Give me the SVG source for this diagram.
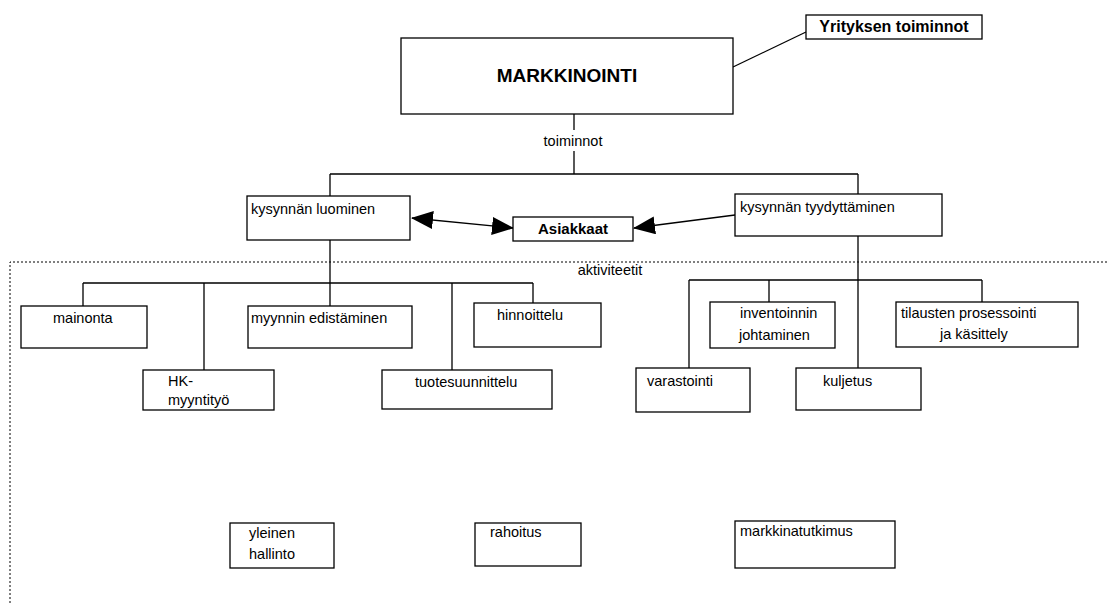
<svg xmlns="http://www.w3.org/2000/svg" width="1108" height="603" viewBox="0 0 1108 603">
<style>
  .box { fill: #fff; stroke: #000; stroke-width: 1.3; }
  .ln { fill: none; stroke: #000; stroke-width: 1.3; }
  .dot { fill: none; stroke: #000; stroke-width: 1; stroke-dasharray: 2 2; }
  text { font-family: "Liberation Sans", Arial, sans-serif; font-size: 14.5px; fill: #000; }
  .b { font-weight: bold; }
  .c { text-anchor: middle; }
</style>
<defs>
  <marker id="ah" markerWidth="22" markerHeight="18" refX="21" refY="9" orient="auto-start-reverse" markerUnits="userSpaceOnUse">
    <path d="M0,0 L22,9 L0,18 Z" fill="#000"/>
  </marker>
</defs>
<rect width="1108" height="603" fill="#fff"/>

<g id="connectors">
  <path class="dot" d="M10,603 V262 H1108"/>
  <line class="ln" x1="733" y1="67" x2="806" y2="32"/>
  <path class="ln" d="M574,114 V130 M574,151 V174 M330,174 H858 M330,174 V196 M858,174 V194"/>
  <line class="ln" x1="412" y1="218" x2="513" y2="228" marker-start="url(#ah)" marker-end="url(#ah)"/>
  <line class="ln" x1="735" y1="215" x2="634" y2="228" marker-end="url(#ah)"/>
  <path class="ln" d="M330,240 V306 M83,283 H533 M83,283 V306 M204,283 V370 M452,283 V370 M533,283 V303"/>
  <path class="ln" d="M858,236 V368 M689,280 H982 M689,280 V368 M769,280 V302 M982,280 V302"/>
</g>

<g id="markkinointi">
  <rect class="box" x="401" y="38" width="332" height="76"/>
  <text class="b c" x="567" y="82" style="font-size:19px">MARKKINOINTI</text>
</g>
<g id="yrityksen-toiminnot">
  <rect class="box" x="806" y="15" width="176" height="24"/>
  <text class="b c" x="894" y="32" style="font-size:16px">Yrityksen toiminnot</text>
</g>
<g id="toiminnot-label">
  <text class="c" x="573" y="146">toiminnot</text>
</g>
<g id="kysynnan-luominen">
  <rect class="box" x="247" y="196" width="163" height="44"/>
  <text x="251" y="214">kysynnän luominen</text>
</g>
<g id="kysynnan-tyydyttaminen">
  <rect class="box" x="735" y="194" width="207" height="42"/>
  <text x="740" y="212">kysynnän tyydyttäminen</text>
</g>
<g id="asiakkaat">
  <rect class="box" x="513" y="217" width="120" height="24"/>
  <text class="b c" x="573" y="234" style="font-size:15px">Asiakkaat</text>
</g>
<g id="aktiviteetit-label">
  <text class="c" x="610" y="275">aktiviteetit</text>
</g>
<g id="mainonta">
  <rect class="box" x="21" y="306" width="126" height="42"/>
  <text x="53" y="323">mainonta</text>
</g>
<g id="myynnin-edistaminen">
  <rect class="box" x="248" y="306" width="164" height="42"/>
  <text x="251" y="323">myynnin edistäminen</text>
</g>
<g id="hinnoittelu">
  <rect class="box" x="474" y="303" width="127" height="44"/>
  <text x="497" y="320">hinnoittelu</text>
</g>
<g id="hk-myyntityo">
  <rect class="box" x="143" y="370" width="131" height="40"/>
  <text x="168" y="386">HK-</text>
  <text x="168" y="405">myyntityö</text>
</g>
<g id="tuotesuunnittelu">
  <rect class="box" x="382" y="370" width="170" height="39"/>
  <text x="415" y="387">tuotesuunnittelu</text>
</g>
<g id="inventoinnin-johtaminen">
  <rect class="box" x="710" y="302" width="125" height="46"/>
  <text x="740" y="318">inventoinnin</text>
  <text x="739" y="340">johtaminen</text>
</g>
<g id="tilausten-prosessointi">
  <rect class="box" x="896" y="302" width="182" height="45"/>
  <text x="901" y="318">tilausten prosessointi</text>
  <text x="940" y="339">ja käsittely</text>
</g>
<g id="varastointi">
  <rect class="box" x="636" y="368" width="114" height="44"/>
  <text x="647" y="386">varastointi</text>
</g>
<g id="kuljetus">
  <rect class="box" x="796" y="368" width="125" height="42"/>
  <text x="823" y="386">kuljetus</text>
</g>
<g id="yleinen-hallinto">
  <rect class="box" x="230" y="523" width="104" height="45"/>
  <text x="249" y="538">yleinen</text>
  <text x="249" y="559">hallinto</text>
</g>
<g id="rahoitus">
  <rect class="box" x="475" y="523" width="106" height="43"/>
  <text x="490" y="537">rahoitus</text>
</g>
<g id="markkinatutkimus">
  <rect class="box" x="735" y="521" width="160" height="47"/>
  <text x="740" y="536">markkinatutkimus</text>
</g>
</svg>
